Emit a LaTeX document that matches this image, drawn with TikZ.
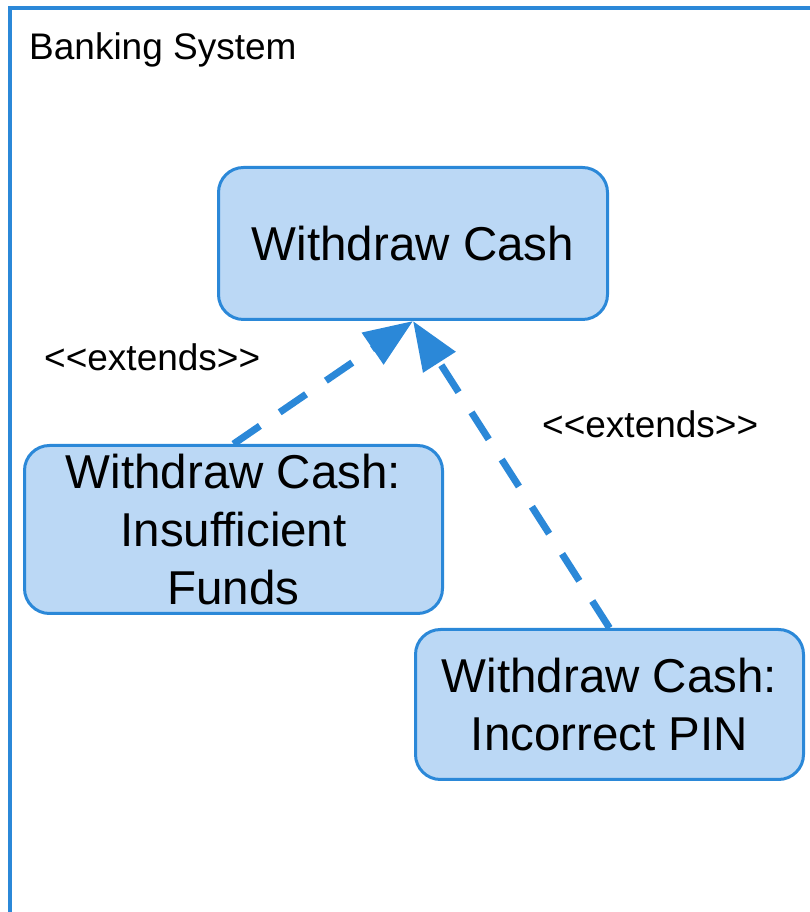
\documentclass[tikz,border=0pt]{standalone}
\usepackage{fontspec}
\setmainfont{Liberation Sans}
\usetikzlibrary{arrows.meta}
\definecolor{ucline}{HTML}{2B88D8}
\definecolor{ucfill}{HTML}{BBD8F5}

\begin{document}
\begin{tikzpicture}[x=1pt,y=1pt,
   usecase/.style={draw=ucline,fill=ucfill,line width=3pt,rounded corners=25pt,
      align=center,inner sep=0pt,font=\fontsize{47.5}{58}\selectfont},
   extends/.style={draw=ucline,line width=7pt,dash pattern=on 32pt off 24pt,
      -{Triangle[length=49pt,width=37pt]}},
   lbl/.style={anchor=base west,inner sep=0pt,font=\fontsize{37}{44}\selectfont}]
   \useasboundingbox (0,0) rectangle (809,912);
   % system boundary
   \draw[ucline,line width=3.5pt] (10,-20) -- (10,904) -- (830,904);
   \node[lbl] (sys) at (29,852) {Banking System};
   % use cases
   \node[usecase,minimum width=389pt,minimum height=152pt] (wc) at (413,668.5) {Withdraw Cash};
   \node[usecase,minimum width=418pt,minimum height=168pt] (wcf) at (233.5,382.5)
      {Withdraw Cash:\\Insufficient\\Funds};
   \node[usecase,minimum width=388pt,minimum height=150pt] (wcp) at (609.5,207.5)
      {Withdraw Cash:\\Incorrect PIN};
   % extends relations
   \draw[extends] (wcf.north) -- (wc.south);
   \draw[extends] (wcp.north) -- (wc.south);
   \node[lbl] (ext1) at (44,541) {<\kern0pt<extends>\kern0pt>};
   \node[lbl] (ext2) at (542,474) {<\kern0pt<extends>\kern0pt>};
\end{tikzpicture}
\end{document}
